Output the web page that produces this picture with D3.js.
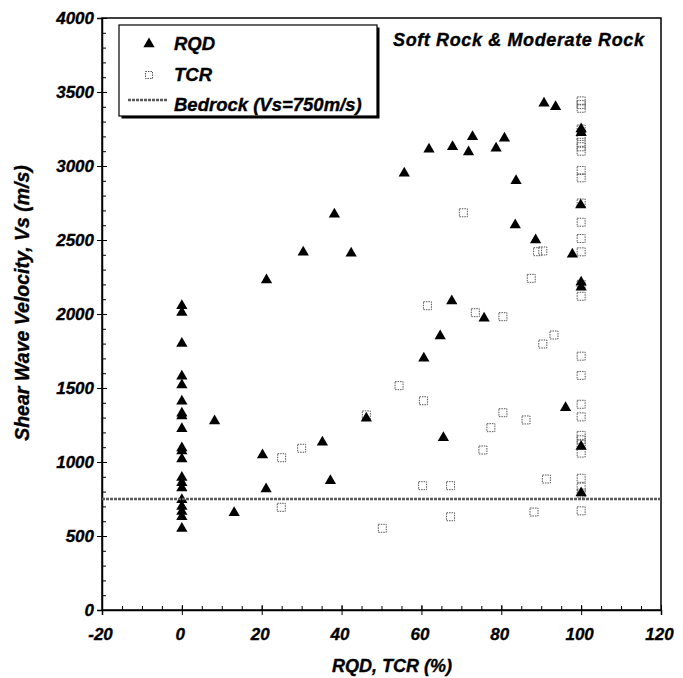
<!DOCTYPE html>
<html>
<head>
<meta charset="utf-8">
<script src="https://cdn.jsdelivr.net/npm/d3@7"></script>
<style>
body{margin:0;background:#fff;}
svg{font-family:"Liberation Sans",Arial,sans-serif;font-weight:bold;font-style:italic;}
svg text{stroke:#000;stroke-width:0.35px;}
</style>
</head>
<body>
<div id="chart"></div>
<script>
// RQD (filled triangles) - [RQD %, Vs m/s]
var rqd = [
  [0,2055],[0,2010],[0,1800],[0,1580],[0,1520],[0,1410],[0,1330],[0,1310],[0,1225],[0,1095],
  [0,1075],[0,1020],[0,895],[0,860],[0,825],[0,745],[0,700],[0,665],[0,630],[0,550],
  [8.2,1277],[13.1,657],[20.2,1047],[21.1,818],[21.2,2230],[30.4,2417],[35.2,1133],[37.2,874],
  [38.2,2674],[42.4,2410],[46.2,1295],[55.7,2951],[60.6,1701],[61.9,3113],[64.7,1851],[65.5,1164],
  [67.6,2088],[67.8,3130],[71.8,3095],[72.8,3198],[75.7,1971],[78.7,3120],[80.8,3187],[83.5,2601],
  [83.7,2901],[88.6,2500],[90.7,3424],[93.6,3401],[96.1,1367],[97.8,2403],[99.9,2736],
  [100,3250],[100,3225],[100,2215],[100,2180],[100,1105],[100,790]
];
// TCR (open squares) - [TCR %, Vs m/s]
var tcr = [
  [24.9,694],[25.0,1029],[30.0,1093],[46.2,1318],[50.2,552],[54.4,1516],[60.3,840],[60.5,1414],
  [61.5,2056],[67.3,840],[67.3,630],[70.5,2684],[73.5,2009],[75.4,1081],[77.4,1232],[80.4,1982],
  [80.4,1333],[86.2,1284],[87.5,2241],[88.2,662],[89.1,2421],[90.4,2426],[90.4,1797],[91.3,885],
  [93.2,1858],
  [100,3440],[100,3415],[100,3390],[100,3250],[100,3200],[100,3160],[100,3130],[100,3100],
  [100,2970],[100,2920],[100,2750],[100,2620],[100,2510],[100,2420],[100,2200],[100,2120],
  [100,1715],[100,1585],[100,1390],[100,1305],[100,1180],[100,1150],[100,1120],[100,1060],
  [100,890],[100,830],[100,790],[100,670]
];
var bedrockVs = 750;
var xTicks = [-20,0,20,40,60,80,100,120];
var yTicks = [0,500,1000,1500,2000,2500,3000,3500,4000];

var svg = d3.select("#chart").append("svg").attr("width",683).attr("height",678);

var x = d3.scaleLinear().domain([-20,120]).range([102,661]);
var y = d3.scaleLinear().domain([0,4000]).range([610,18]);

// frame
svg.append("rect").attr("x",x(-20)).attr("y",y(4000))
  .attr("width",x(120)-x(-20)).attr("height",y(0)-y(4000))
  .attr("fill","none").attr("stroke","#000").attr("stroke-width",1.5);

// minor ticks
svg.append("g").attr("transform","translate(0,"+y(0)+")")
  .call(d3.axisBottom(x).tickValues(d3.range(-20,121,5)).tickSize(-4).tickFormat(""))
  .call(g => g.select(".domain").remove());
svg.append("g").attr("transform","translate("+x(-20)+",0)")
  .call(d3.axisLeft(y).tickValues(d3.range(0,4001,100)).tickSize(-4).tickFormat(""))
  .call(g => g.select(".domain").remove());

// major axes
var xAxis = svg.append("g").attr("transform","translate(0,"+y(0)+")")
  .call(d3.axisBottom(x).tickValues(xTicks).tickSize(5).tickPadding(13).tickFormat(d => String(d)));
xAxis.selectAll(".tick line").attr("y1",-5);
var yAxis = svg.append("g").attr("transform","translate("+x(-20)+",0)")
  .call(d3.axisLeft(y).tickValues(yTicks).tickSize(5).tickPadding(3).tickFormat(d => String(d)));
yAxis.selectAll(".tick line").attr("x1",5);
svg.selectAll(".domain").attr("stroke-width",1.5);
svg.selectAll(".tick text").style("font-size","17px").style("font-family","'Liberation Sans',Arial,sans-serif")
  .style("font-weight","bold").style("font-style","italic").attr("fill","#000");
xAxis.selectAll(".tick text").attr("x",-2);

// axis titles
svg.append("text").attr("x",392).attr("y",672).attr("text-anchor","middle")
  .style("font-size","18px").text("RQD, TCR (%)");
svg.append("text").attr("transform","translate(29,303) rotate(-90)").attr("text-anchor","middle")
  .style("font-size","19.5px").text("Shear Wave Velocity, Vs (m/s)");

// TCR squares
svg.append("g").selectAll("rect").data(tcr).enter().append("rect")
  .attr("x",d => x(d[0])-4).attr("y",d => y(d[1])-4)
  .attr("width",8).attr("height",8)
  .attr("fill","none").attr("stroke","#555").attr("stroke-width",1).attr("stroke-dasharray","1.5,1");

// RQD triangles
var tri = d3.symbol().type(d3.symbolTriangle).size(55);
svg.append("g").selectAll("path").data(rqd).enter().append("path")
  .attr("d",tri).attr("transform",d => "translate("+x(d[0])+","+y(d[1])+")")
  .attr("fill","#000");

// bedrock line
svg.append("line").attr("x1",x(-20)).attr("x2",x(120)).attr("y1",y(bedrockVs)).attr("y2",y(bedrockVs))
  .attr("stroke","#5a5a5a").attr("stroke-width",2.5).attr("stroke-dasharray","3,1");

// legend
var lg = svg.append("g");
lg.append("rect").attr("x",121.5).attr("y",27.5).attr("width",258).attr("height",91).attr("fill","#000");
lg.append("rect").attr("x",119).attr("y",25).attr("width",258).attr("height",91)
  .attr("fill","#fff").attr("stroke","#000").attr("stroke-width",1.2);
lg.append("path").attr("d",tri).attr("transform","translate(149,44)").attr("fill","#000");
lg.append("rect").attr("x",145.5).attr("y",71.5).attr("width",7).attr("height",7)
  .attr("fill","none").attr("stroke","#555").attr("stroke-dasharray","1.5,1");
lg.append("line").attr("x1",128).attr("x2",168).attr("y1",100).attr("y2",100)
  .attr("stroke","#5a5a5a").attr("stroke-width",2.5).attr("stroke-dasharray","3,1");
lg.selectAll("text.lab").data(["RQD","TCR","Bedrock (Vs=750m/s)"]).enter().append("text")
  .attr("x",174).attr("y",(d,i) => 50 + i*30.5).style("font-size","18.5px").text(d => d);

// annotation
svg.append("text").attr("x",393).attr("y",46).style("font-size","18px")
  .attr("textLength",251).attr("lengthAdjust","spacing").text("Soft Rock & Moderate Rock");
</script>
</body>
</html>
